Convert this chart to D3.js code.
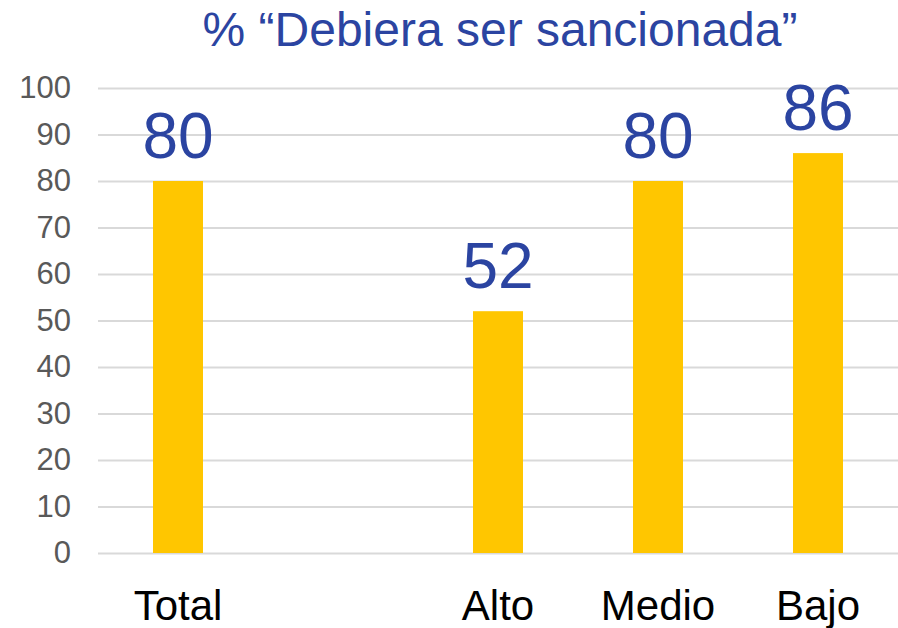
<!DOCTYPE html>
<html>
<head>
<meta charset="utf-8">
<script src="https://cdn.jsdelivr.net/npm/d3@7"></script>
<style>
  body { margin: 0; background: #fff; }
  text { font-family: "Liberation Sans", Arial, sans-serif; }
</style>
</head>
<body>
<div id="chart"></div>
<script>
// Data (one empty slot between Total and Alto)
const categories = ['Total', '', 'Alto', 'Medio', 'Bajo'];
const values = [80, null, 52, 80, 86];
const yTicks = [0, 10, 20, 30, 40, 50, 60, 70, 80, 90, 100];
const title = '% “Debiera ser sancionada”';

const width = 898;
const height = 628;
const margin = { top: 88, right: 0, bottom: 75, left: 98 };

const svg = d3.select('#chart').append('svg').attr('width', width).attr('height', height);

const x = d3
  .scaleBand()
  .domain(d3.range(categories.length))
  .range([margin.left, width - margin.right])
  .paddingInner(0.6875)
  .paddingOuter(0.34375);

const y = d3
  .scaleLinear()
  .domain([0, 100])
  .range([height - margin.bottom, margin.top]);

// Title
svg
  .append('text')
  .attr('x', 500)
  .attr('y', 46)
  .attr('text-anchor', 'middle')
  .attr('fill', '#2b44a1')
  .style('font-size', '48px')
  .text(title);

// Gridlines + y tick labels
const yAxis = svg
  .append('g')
  .attr('transform', `translate(${margin.left},0)`)
  .call(d3.axisLeft(y).tickValues(yTicks).tickSize(-(width - margin.left - margin.right)).tickPadding(27));

yAxis.select('.domain').remove();
yAxis.selectAll('.tick line').attr('stroke', '#d9d9d9').attr('stroke-width', 2);
yAxis
  .selectAll('.tick text')
  .attr('fill', '#595959')
  .style('font-size', '31px')
  .style('font-family', '"Liberation Sans", Arial, sans-serif');

// Bars
const idx = d3.range(categories.length).filter((i) => values[i] != null);

svg
  .append('g')
  .selectAll('rect')
  .data(idx)
  .join('rect')
  .attr('x', (i) => x(i))
  .attr('y', (i) => y(values[i]))
  .attr('width', x.bandwidth())
  .attr('height', (i) => y(0) - y(values[i]))
  .attr('fill', '#ffc600');

// Value labels
svg
  .append('g')
  .selectAll('text')
  .data(idx)
  .join('text')
  .attr('x', (i) => x(i) + x.bandwidth() / 2)
  .attr('y', (i) => y(values[i]) - 23)
  .attr('text-anchor', 'middle')
  .attr('fill', '#2b44a1')
  .style('font-size', '64px')
  .text((i) => values[i]);

// Category labels
svg
  .append('g')
  .selectAll('text')
  .data(d3.range(categories.length))
  .join('text')
  .attr('x', (i) => x(i) + x.bandwidth() / 2)
  .attr('y', 620)
  .attr('text-anchor', 'middle')
  .attr('fill', '#000')
  .style('font-size', '42px')
  .text((i) => categories[i]);
</script>
</body>
</html>
